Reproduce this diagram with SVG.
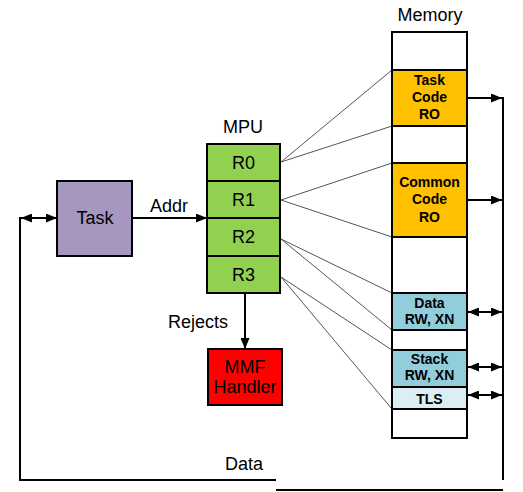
<svg xmlns="http://www.w3.org/2000/svg" width="523" height="492" viewBox="0 0 523 492">
<defs>
<marker id="ah" viewBox="0 0 11 9" refX="11" refY="4.5" markerWidth="11" markerHeight="9" markerUnits="userSpaceOnUse" orient="auto-start-reverse">
<path d="M0,0 L11,4.5 L0,9 Z" fill="#000"/>
</marker>
<style>
.box{stroke:#000;stroke-width:2}
.t{font-family:"Liberation Sans",Arial,sans-serif;font-size:18px;fill:#000;text-anchor:middle;dominant-baseline:central}
.b{font-family:"Liberation Sans",Arial,sans-serif;font-size:14px;font-weight:bold;fill:#000;text-anchor:middle;dominant-baseline:central}
.ln{stroke:#000;stroke-width:2;fill:none}
.thin{stroke:#555;stroke-width:1;fill:none}
</style>
</defs>
<rect width="523" height="492" fill="#fff"/>
<g id="connectors">
<line class="thin" x1="281" y1="162" x2="392" y2="70"/>
<line class="thin" x1="281" y1="162" x2="392" y2="126"/>
<line class="thin" x1="281" y1="200" x2="392" y2="163"/>
<line class="thin" x1="281" y1="200" x2="392" y2="237"/>
<line class="thin" x1="281" y1="239" x2="392" y2="293"/>
<line class="thin" x1="281" y1="239" x2="392" y2="330"/>
<line class="thin" x1="281" y1="277" x2="392" y2="350"/>
<line class="thin" x1="281" y1="277" x2="392" y2="409"/>
<line class="ln" x1="132" y1="218" x2="207" y2="218" marker-end="url(#ah)"/>
<line class="ln" x1="245" y1="294" x2="245" y2="349" marker-end="url(#ah)"/>
<line class="ln" x1="21" y1="218" x2="57" y2="218" marker-start="url(#ah)" marker-end="url(#ah)"/>
<polyline class="ln" points="20,217 20,480 276,480"/>
<line class="ln" x1="276" y1="490" x2="503" y2="490"/>
<line class="ln" x1="503" y1="97" x2="503" y2="480"/>
<line class="ln" x1="467" y1="98" x2="502" y2="98" marker-end="url(#ah)"/>
<line class="ln" x1="467" y1="200" x2="502" y2="200" marker-end="url(#ah)"/>
<line class="ln" x1="468" y1="312" x2="502" y2="312" marker-start="url(#ah)" marker-end="url(#ah)"/>
<line class="ln" x1="468" y1="367" x2="502" y2="367" marker-start="url(#ah)" marker-end="url(#ah)"/>
<line class="ln" x1="468" y1="395" x2="502" y2="395" marker-start="url(#ah)" marker-end="url(#ah)"/>
<text class="t" x="169" y="206">Addr</text>
<text class="t" x="198" y="322">Rejects</text>
<text class="t" x="244" y="464">Data</text>
</g>
<g id="task">
<rect class="box" x="57" y="181" width="75" height="75" fill="#A597BF"/>
<text class="t" x="95" y="218">Task</text>
</g>
<g id="mpu">
<text class="t" x="243" y="127">MPU</text>
<rect class="box" x="207" y="144" width="73" height="37" fill="#92D050"/>
<text class="t" x="243.5" y="162.5">R0</text>
<rect class="box" x="207" y="181" width="73" height="37" fill="#92D050"/>
<text class="t" x="243.5" y="199.5">R1</text>
<rect class="box" x="207" y="218" width="73" height="38" fill="#92D050"/>
<text class="t" x="243.5" y="237">R2</text>
<rect class="box" x="207" y="256" width="73" height="37" fill="#92D050"/>
<text class="t" x="243.5" y="274.5">R3</text>
</g>
<g id="mmf">
<rect class="box" x="208" y="349" width="74" height="56" fill="#FF0000"/>
<text class="t" x="245" y="367">MMF</text>
<text class="t" x="245" y="387">Handler</text>
</g>
<g id="memory">
<text class="t" x="430" y="15">Memory</text>
<rect class="box" x="392" y="32" width="75" height="406" fill="#fff"/>
<rect class="box" x="392" y="70" width="75" height="56" fill="#FFC000"/>
<text class="b" x="429.5" y="80">Task</text>
<text class="b" x="429.5" y="97">Code</text>
<text class="b" x="429.5" y="114">RO</text>
<rect class="box" x="392" y="163" width="75" height="74" fill="#FFC000"/>
<text class="b" x="429.5" y="182">Common</text>
<text class="b" x="429.5" y="199">Code</text>
<text class="b" x="429.5" y="217">RO</text>
<rect class="box" x="392" y="293" width="75" height="37" fill="#92CDDC"/>
<text class="b" x="429.5" y="303">Data</text>
<text class="b" x="429.5" y="319">RW, XN</text>
<rect class="box" x="392" y="350" width="75" height="37" fill="#92CDDC"/>
<text class="b" x="429.5" y="359">Stack</text>
<text class="b" x="429.5" y="375">RW, XN</text>
<rect class="box" x="392" y="387" width="75" height="22" fill="#DAEEF3"/>
<text class="b" x="429.5" y="398.5">TLS</text>
</g>
</svg>
